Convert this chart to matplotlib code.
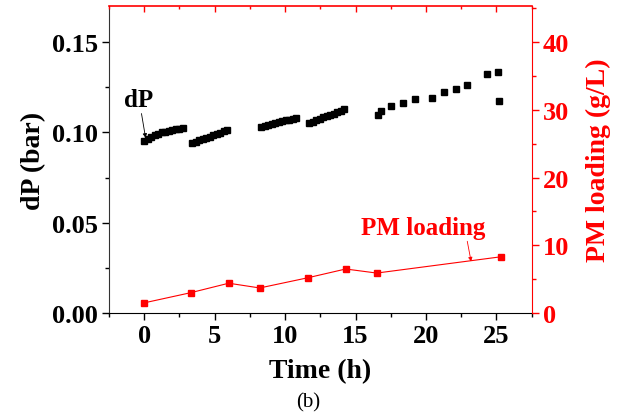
import matplotlib
matplotlib.use("Agg")
import matplotlib.pyplot as plt
from matplotlib.ticker import MultipleLocator

# dP data (bar)
dp_time = [0.0, 0.25, 0.5, 0.75, 1.0, 1.25, 1.5, 1.75, 2.0, 2.25, 2.5, 2.75,
           3.4, 3.65, 3.9, 4.15, 4.4, 4.65, 4.9, 5.15, 5.4, 5.65, 5.9,
           8.3, 8.55, 8.8, 9.05, 9.3, 9.55, 9.8, 10.05, 10.3, 10.55, 10.8,
           11.7, 11.95, 12.2, 12.45, 12.7, 12.95, 13.2, 13.45, 13.7, 13.95, 14.2,
           16.6, 16.8, 17.55, 18.37, 19.2, 20.45, 21.28, 22.1, 22.9, 24.3, 25.1, 25.2]
dp_values = [0.0950, 0.0962, 0.0975, 0.0985, 0.0992, 0.1000, 0.1005, 0.1010, 0.1014, 0.1018, 0.1021, 0.1024,
             0.0940, 0.0948, 0.0956, 0.0963, 0.0970, 0.0977, 0.0984, 0.0991, 0.0998, 0.1006, 0.1015,
             0.1032, 0.1038, 0.1043, 0.1049, 0.1054, 0.1058, 0.1063, 0.1067, 0.1071, 0.1076, 0.1080,
             0.1052, 0.1060, 0.1068, 0.1076, 0.1083, 0.1090, 0.1097, 0.1104, 0.1112, 0.1120, 0.1128,
             0.1095, 0.1117, 0.1145, 0.1164, 0.1186, 0.1193, 0.1225, 0.1241, 0.1265, 0.1326, 0.1334, 0.1173]

# PM loading data (g/L)
pm_time = [0.0, 3.3, 6.0, 8.2, 11.6, 14.3, 16.5, 25.3]
pm_values = [1.5, 3.0, 4.4, 3.7, 5.2, 6.5, 5.9, 8.3]

xticks = [0, 5, 10, 15, 20, 25]
yticks_left = [0.00, 0.05, 0.10, 0.15]
yticks_right = [0, 10, 20, 30, 40]

serif = ["Liberation Serif", "DejaVu Serif"]
plt.rcParams['font.family'] = serif
RED = "#ff0000"

fig = plt.figure(figsize=(6.19, 4.14), dpi=100)
ax = fig.add_axes([0.176, 0.2415, 0.683, 0.7415])

ax.plot(dp_time, dp_values, linestyle='none', marker='s', markersize=5,
        color='black', zorder=3)
ax.set_xlim(-2.5, 27.5)
ax.set_ylim(0, 0.17)
ax.set_xticks(xticks)
ax.set_yticks(yticks_left)
ax.yaxis.set_major_formatter(plt.FuncFormatter(lambda v, p: f"{v:.2f}"))
ax.xaxis.set_minor_locator(MultipleLocator(2.5))
ax.yaxis.set_minor_locator(MultipleLocator(0.025))
ax.tick_params(axis='both', which='major', direction='out', length=5, width=1,
               labelsize=19, pad=3)
ax.tick_params(axis='both', which='minor', direction='out', length=3, width=1)
for lbl in ax.get_xticklabels() + ax.get_yticklabels():
    lbl.set_fontweight('bold')
ax.spines['top'].set_visible(False)
ax.spines['right'].set_visible(False)
ax.spines['left'].set_color('#333333')
ax.set_xlabel("Time (h)", fontsize=20, fontweight='bold', labelpad=8)
ax.set_ylabel("dP (bar)", fontsize=20, fontweight='bold', labelpad=4)

ax2 = ax.twinx()
ax2.plot(pm_time, pm_values, color=RED, linewidth=0.8, marker='s', markersize=5,
         markerfacecolor=RED, markeredgecolor=RED)
ax2.set_ylim(0, 45.33)
ax2.set_yticks(yticks_right)
ax2.yaxis.set_minor_locator(MultipleLocator(5))
ax2.tick_params(axis='y', which='major', direction='out', length=5, width=1,
                colors=RED, labelsize=19, pad=3)
ax2.tick_params(axis='y', which='minor', direction='out', length=3, width=1, colors=RED)
for lbl in ax2.get_yticklabels():
    lbl.set_fontweight('bold')
for s in ['left', 'bottom']:
    ax2.spines[s].set_visible(False)
ax2.spines['right'].set_color(RED)
ax2.spines['top'].set_color(RED)
ax2.spines['top'].set_linewidth(1.2)

# top ticks (inward, red)
ax2.xaxis.set_visible(True)
ax2.xaxis.tick_top()
ax2.set_xticks(xticks)
ax2.xaxis.set_minor_locator(MultipleLocator(2.5))
ax2.tick_params(axis='x', which='major', direction='in', length=4, width=1,
                colors=RED, labeltop=False, top=True, bottom=False)
ax2.tick_params(axis='x', which='minor', direction='in', length=2.5, width=1,
                colors=RED, top=True, bottom=False)

ax2.set_ylabel("PM loading (g/L)", fontsize=20, fontweight='bold', color=RED,
               labelpad=12)

ax.annotate("dP", xy=(dp_time[0] + 0.1, dp_values[0] + 0.002),
            xytext=(-1.4, 0.112), fontsize=18, fontweight='bold', color='black',
            ha='left', va='bottom',
            arrowprops=dict(arrowstyle='-|>', color='black', lw=0.6,
                            mutation_scale=6, shrinkA=0, shrinkB=0))
ax2.annotate("PM loading", xy=(23.2, 7.6), xytext=(19.8, 11.0),
             fontsize=18, fontweight='bold', color=RED, ha='center', va='bottom',
             arrowprops=dict(arrowstyle='-|>', color=RED, lw=0.6,
                             mutation_scale=6, shrinkA=0, shrinkB=0,
                             relpos=(0.85, 0.0)))

fig.text(0.498, 0.003, "(b)", fontsize=15, ha='center', va='bottom')

fig.savefig("out.png", dpi=100)
